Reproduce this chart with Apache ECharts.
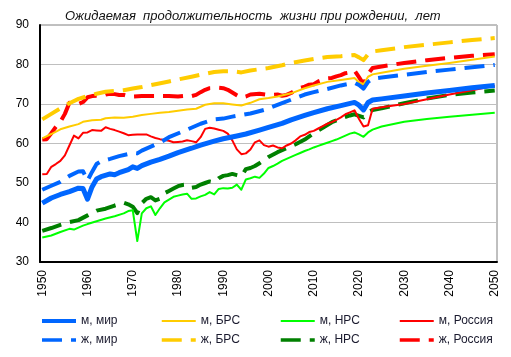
<!DOCTYPE html>
<html><head><meta charset="utf-8">
<script src="https://cdn.jsdelivr.net/npm/echarts@6/dist/echarts.min.js"></script>
<style>html,body{margin:0;padding:0;background:#fff}#c{width:511px;height:357px}</style>
</head><body><div id="c"></div>
<script>
const titleText = 'Ожидаемая  продолжительность  жизни при рождении,  лет';
const names = ['м, мир','ж, мир','м, БРС','ж, БРС','м, НРС','ж, НРС','м, Россия','ж, Россия'];
const yTicks = [30, 40, 50, 60, 70, 80, 90];

// [year, value]
const mWorld = [[1950,44.9],[1952,46.2],[1954,47.1],[1956,47.8],[1958,48.7],[1959,48.6],[1960,45.9],[1961,49.0],[1962,51.0],[1963,51.6],[1965,52.3],[1966,52.1],[1967,52.6],[1969,53.4],[1970,54.1],[1971,53.7],[1972,54.4],[1974,55.3],[1976,56.0],[1978,56.8],[1980,57.7],[1983,58.8],[1985,59.6],[1988,60.6],[1990,61.2],[1993,61.9],[1995,62.4],[1998,63.4],[2000,64.1],[2003,65.1],[2005,66.0],[2008,67.1],[2010,67.8],[2013,68.8],[2016,69.6],[2019,70.4],[2020,69.7],[2021,68.5],[2022,70.4],[2023,71.0],[2025,71.3],[2030,72.0],[2035,72.8],[2040,73.4],[2045,74.1],[2050,74.7]];
const fWorld = [[1950,48.3],[1952,49.3],[1954,50.3],[1956,51.8],[1958,52.9],[1959,53.0],[1960,50.6],[1961,52.8],[1962,54.8],[1963,55.5],[1965,56.1],[1967,56.8],[1970,57.6],[1971,57.5],[1972,58.2],[1974,59.2],[1976,60.2],[1978,61.6],[1982,63.5],[1985,65.0],[1988,66.1],[1990,66.3],[1992,66.8],[1996,67.6],[1999,68.5],[2000,68.9],[2003,70.2],[2005,71.1],[2008,72.4],[2010,73.0],[2013,73.8],[2016,74.7],[2019,75.4],[2020,74.8],[2021,73.9],[2022,75.6],[2023,76.4],[2025,76.7],[2030,77.4],[2035,78.1],[2040,78.7],[2045,79.3],[2050,79.9]];
const mDev = [[1950,61.3],[1952,62.4],[1954,63.6],[1956,64.3],[1958,64.9],[1959,65.5],[1961,65.9],[1963,66.0],[1964,66.4],[1966,66.6],[1968,66.5],[1970,66.8],[1972,67.2],[1974,67.5],[1976,67.8],[1978,68.0],[1980,68.3],[1982,68.6],[1984,68.8],[1986,69.8],[1988,70.2],[1990,70.2],[1992,69.9],[1994,69.6],[1996,70.3],[1998,71.2],[2000,71.5],[2002,71.9],[2005,72.7],[2008,74.0],[2010,74.7],[2013,75.6],[2016,76.1],[2019,76.6],[2020,75.5],[2021,75.0],[2022,76.9],[2023,77.5],[2025,77.9],[2030,78.9],[2035,79.7],[2040,80.4],[2045,81.2],[2050,82.0]];
const fDev = [[1950,66.1],[1952,67.5],[1954,68.9],[1956,70.2],[1958,71.3],[1960,72.0],[1962,72.6],[1964,73.1],[1966,73.3],[1968,73.5],[1970,73.9],[1972,74.3],[1975,75.0],[1978,75.7],[1980,76.2],[1983,76.9],[1985,77.4],[1988,78.1],[1990,78.3],[1992,78.3],[1994,78.0],[1996,78.5],[2000,79.1],[2003,79.8],[2005,80.4],[2008,81.0],[2010,81.4],[2013,81.9],[2016,82.1],[2019,82.4],[2020,81.8],[2021,81.1],[2022,82.6],[2023,83.3],[2025,83.6],[2030,84.4],[2035,85.0],[2040,85.6],[2045,86.2],[2050,86.7]];
const mLdc = [[1950,36.2],[1952,36.7],[1954,37.6],[1956,38.4],[1957,38.2],[1958,38.7],[1959,39.2],[1960,39.6],[1962,40.3],[1964,41.0],[1966,41.6],[1968,42.3],[1969,42.9],[1970,43.1],[1971,35.3],[1972,42.3],[1973,43.6],[1974,44.1],[1975,41.9],[1976,43.6],[1977,45.1],[1978,45.8],[1979,46.5],[1980,46.8],[1981,47.1],[1982,47.3],[1983,46.0],[1984,46.1],[1985,46.6],[1986,47.0],[1987,47.7],[1988,47.1],[1989,48.5],[1990,48.7],[1991,48.6],[1992,48.8],[1993,49.6],[1994,48.3],[1995,50.9],[1996,51.2],[1997,51.6],[1998,51.3],[1999,52.4],[2000,53.8],[2001,54.3],[2002,54.9],[2003,55.6],[2004,56.1],[2005,56.6],[2006,57.1],[2007,57.6],[2008,58.1],[2009,58.5],[2010,59.0],[2011,59.4],[2012,59.8],[2013,60.2],[2014,60.6],[2015,61.0],[2016,61.5],[2017,62.0],[2018,62.5],[2019,62.8],[2020,62.3],[2021,61.7],[2022,62.8],[2023,63.5],[2025,64.3],[2030,65.5],[2035,66.2],[2040,66.8],[2045,67.3],[2050,67.8]];
const fLdc = [[1950,37.9],[1952,38.6],[1954,39.4],[1956,40.1],[1958,40.6],[1960,41.8],[1962,43.0],[1964,43.5],[1966,44.3],[1968,45.0],[1969,44.6],[1970,44.0],[1971,42.4],[1972,44.9],[1973,46.0],[1974,46.4],[1975,45.6],[1976,46.0],[1977,47.4],[1978,48.0],[1979,48.6],[1980,49.2],[1981,49.5],[1982,49.6],[1983,48.8],[1984,49.0],[1985,49.6],[1986,50.0],[1987,50.4],[1988,50.2],[1989,51.2],[1990,51.8],[1991,52.0],[1992,52.3],[1993,52.0],[1994,51.7],[1995,53.5],[1996,53.8],[1997,54.3],[1998,55.0],[1999,55.8],[2000,56.6],[2002,57.8],[2004,58.8],[2006,59.8],[2008,61.0],[2010,62.6],[2012,64.0],[2014,65.4],[2016,66.3],[2018,67.1],[2019,67.4],[2020,67.0],[2021,66.6],[2022,67.9],[2023,68.5],[2025,68.9],[2030,70.2],[2035,71.4],[2040,72.3],[2045,72.9],[2050,73.4]];
const mRus = [[1950,52.2],[1951,52.3],[1952,54.1],[1953,54.8],[1954,55.6],[1955,57.0],[1956,59.5],[1957,62.0],[1958,61.3],[1959,62.7],[1960,62.8],[1961,63.4],[1962,63.3],[1963,63.2],[1964,64.1],[1965,63.7],[1966,63.4],[1967,63.0],[1968,62.6],[1969,62.1],[1970,62.2],[1971,62.3],[1972,62.3],[1973,62.3],[1974,61.8],[1975,61.4],[1976,61.1],[1977,60.9],[1978,60.7],[1979,60.3],[1980,60.4],[1981,60.5],[1982,60.8],[1983,60.6],[1984,60.3],[1985,61.6],[1986,63.7],[1987,64.0],[1988,63.8],[1989,63.5],[1990,63.2],[1991,62.5],[1992,60.8],[1993,58.5],[1994,57.3],[1995,57.5],[1996,58.5],[1997,60.3],[1998,60.8],[1999,59.6],[2000,59.2],[2001,59.5],[2002,59.0],[2003,58.8],[2004,59.5],[2005,60.0],[2006,60.8],[2007,61.8],[2008,62.2],[2009,62.9],[2010,63.2],[2011,63.8],[2012,64.4],[2013,65.0],[2014,65.4],[2015,66.0],[2016,66.6],[2017,67.4],[2018,67.9],[2019,68.4],[2020,66.2],[2021,64.3],[2022,64.6],[2023,68.8],[2025,69.2],[2030,70.0],[2035,71.2],[2040,72.4],[2045,73.5],[2050,74.6]];
const fRus = [[1950,61.0],[1951,61.1],[1952,62.6],[1953,64.2],[1954,65.5],[1955,67.5],[1956,70.3],[1957,69.9],[1958,70.0],[1959,70.5],[1960,71.7],[1961,72.0],[1962,72.1],[1963,71.9],[1964,72.4],[1965,72.6],[1966,72.5],[1967,72.3],[1968,72.3],[1969,72.0],[1970,71.9],[1972,72.0],[1974,72.0],[1976,72.0],[1978,72.0],[1980,71.9],[1982,72.1],[1983,72.0],[1984,72.3],[1985,73.0],[1986,73.6],[1987,74.0],[1989,74.1],[1990,74.0],[1991,73.6],[1992,72.9],[1993,72.2],[1994,71.6],[1995,71.9],[1996,72.4],[1998,72.6],[2000,72.3],[2002,72.4],[2003,72.1],[2004,72.3],[2005,72.8],[2006,73.5],[2007,74.1],[2008,74.4],[2009,74.9],[2010,75.0],[2011,75.7],[2012,76.1],[2013,76.5],[2014,76.6],[2015,77.0],[2016,77.3],[2017,77.8],[2018,78.0],[2019,78.5],[2020,76.8],[2021,75.0],[2022,77.6],[2023,79.1],[2025,79.5],[2030,80.4],[2035,81.1],[2040,81.7],[2045,82.2],[2050,82.6]];

const years = [];
for (let y = 1950; y <= 2050; y++) years.push(String(y));
function fill(pairs) {
  const arr = years.map(() => null);
  pairs.forEach(p => { arr[p[0] - 1950] = p[1]; });
  return arr;
}
const DASH = [20, 9];
const styles = [
  {color:'#0066FF', width:5, type:'solid'},
  {color:'#0066FF', width:4, type:DASH},
  {color:'#FFCC00', width:2, type:'solid'},
  {color:'#FFCC00', width:4, type:DASH},
  {color:'#00FF00', width:2, type:'solid'},
  {color:'#008000', width:4, type:DASH},
  {color:'#FF0000', width:2, type:'solid'},
  {color:'#FF0000', width:4, type:DASH}
];
const dataSets = [mWorld, fWorld, mDev, fDev, mLdc, fLdc, mRus, fRus];
const drawOrder = [5, 4, 7, 6, 3, 2, 1, 0];

const series = drawOrder.map(i => ({
  name: names[i], type: 'line', data: fill(dataSets[i]), connectNulls: true,
  symbol: 'none', showSymbol: false, animation: false,
  lineStyle: {color: styles[i].color, width: styles[i].width, type: styles[i].type, cap: 'butt', join: 'round'},
  itemStyle: {color: styles[i].color}
}));

const legendCols = [40, 160, 279, 398];
const legends = legendCols.map((x, c) => ({
  orient: 'vertical', left: x, top: 314, padding: 0, itemWidth: 34, itemHeight: 12, itemGap: 5,
  data: [c * 2, c * 2 + 1].map(i => ({
    name: names[i],
    itemStyle: {opacity: 0},
    lineStyle: {color: styles[i].color, width: i === 0 ? 4 : (styles[i].type === 'solid' ? 2 : 3.5), type: styles[i].type, cap: 'butt'}
  })),
  textStyle: {fontFamily: 'Liberation Sans, Arial', fontSize: 12, color: '#1a1a2e', lineHeight: 14},
  selectedMode: false
}));

const chart = echarts.init(document.getElementById('c'), null, {renderer: 'canvas'});
chart.setOption({
  backgroundColor: '#fff',
  animation: false,
  title: {text: titleText, left: 65, top: 10, padding: 0,
    textStyle: {fontFamily: 'Liberation Sans, Arial', fontSize: 13, fontStyle: 'italic', fontWeight: 'normal', color: '#111'}},
  legend: legends,
  grid: {left: 40, top: 25, width: 457, height: 237, show: true, borderColor: '#808080', borderWidth: 1, containLabel: false},
  xAxis: {type: 'category', data: years, boundaryGap: true,
    axisLine: {lineStyle: {color: '#000', width: 2}},
    axisTick: {show: false},
    axisLabel: {interval: (i) => i % 10 === 0, rotate: 90, margin: 8, fontFamily: 'Liberation Sans, Arial', fontSize: 12, color: '#000'},
    splitLine: {show: true, interval: (i) => i === 72, lineStyle: {color: '#BFBFBF', width: 1}}
  },
  yAxis: {type: 'value', min: yTicks[0], max: yTicks[yTicks.length - 1], interval: 10,
    axisLine: {show: true, lineStyle: {color: '#000', width: 2}},
    axisTick: {show: false},
    axisLabel: {margin: 11, fontFamily: 'Liberation Sans, Arial', fontSize: 12, color: '#000'},
    splitLine: {lineStyle: {color: '#BFBFBF', width: 1}}
  },
  series: series
});
</script></body></html>
